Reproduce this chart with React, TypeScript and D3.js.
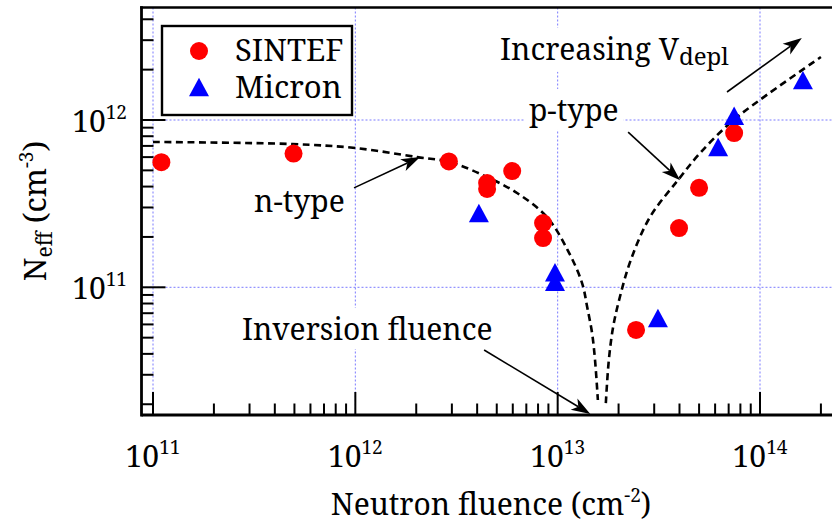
import React, { useLayoutEffect, useRef, useState } from 'react';
import * as d3 from 'd3';

const FONT = "'Noto Serif', 'Liberation Serif', serif";

// SINTEF measurements (red circles)
const sintefFluence = [1.1e11, 4.95e11, 2.9e12, 4.48e12, 4.48e12, 5.96e12, 8.47e12, 8.47e12, 2.44e13, 3.98e13, 5.0e13, 7.45e13];
const sintefNeff = [5.6e11, 6.3e11, 5.65e11, 4.2e11, 3.87e11, 4.95e11, 2.42e11, 1.97e11, 5.56e10, 2.26e11, 3.93e11, 8.36e11];

// Micron measurements (blue triangles)
const micronFluence = [4.08e12, 9.7e12, 9.7e12, 3.13e13, 6.21e13, 7.45e13, 1.63e14];
const micronNeff = [2.78e11, 1.23e11, 1.08e11, 6.55e10, 6.9e11, 1.06e12, 1.73e12];

// dashed model curve, n-type branch
const nTypeFluence = [1e11, 4.9e11, 1.0e12, 2.02e12, 2.94e12, 4.48e12, 6.3e12, 8.85e12, 1.12e13, 1.32e13, 1.40e13, 1.48e13, 1.53e13, 1.58e13];
const nTypeNeff = [7.39e11, 7.18e11, 6.8e11, 6.0e11, 5.6e11, 4.56e11, 3.66e11, 2.63e11, 1.67e11, 1.06e11, 7.6e10, 5.3e10, 3.67e10, 2.12e10];

// dashed model curve, p-type branch
const pTypeFluence = [1.73e13, 1.79e13, 1.88e13, 2.03e13, 2.30e13, 2.86e13, 3.93e13, 5.06e13, 7.12e13, 1.0e14, 2.0e14];
const pTypeNeff = [2.03e10, 3.67e10, 5.79e10, 8.75e10, 1.46e11, 2.63e11, 4.37e11, 6.35e11, 9.6e11, 1.32e12, 2.38e12];

// tick labels
const xMajorTicks = [1e11, 1e12, 1e13, 1e14];
const xMajorExponents = ['11', '12', '13', '14'];
const yMajorTicks = [1e11, 1e12];
const yMajorExponents = ['11', '12'];

// annotations (data coordinates)
const arrowFromFluence = [6.87e13, 2.23e13, 9.85e11, 4.33e12];
const arrowFromNeff = [1.47e12, 8.47e11, 3.93e11, 4.22e10];
const arrowToFluence = [1.61e14, 4.03e13, 2.09e12, 1.45e13];
const arrowToNeff = [3.09e12, 4.37e11, 6.01e11, 1.75e10];

const labelTexts = ['n-type', 'p-type', 'Inversion fluence'];
const labelFluence = [3.16e11, 7.21e12, 2.75e11];
const labelNeff = [2.82e11, 9.87e11, 4.84e10];
const incLabelFluence = 5.19e12;
const incLabelNeff = 2.29e12;

const legendNames = ['SINTEF', 'Micron'];

const W = 832;
const H = 523;
const left = 141.5;
const right = 832;
const top = 7.5;
const bottom = 415;

const x = d3.scaleLog().domain([1e11, 1e14]).range([153, 760]);
const y = d3.scaleLog().domain([1e11, 1e12]).range([287.3, 120]);

const xTicks = x.copy().domain([x.invert(left + 3), x.invert(right)]).ticks();
const yTicks = y.copy().domain([y.invert(bottom - 3), y.invert(top)]).ticks();
const isMajor = (v: number) => Math.abs(Math.log10(v) - Math.round(Math.log10(v))) < 1e-6;

const GRID = '#7a7aff';
const RED = '#ff0000';
const BLUE = '#0000ff';
const FS = 30;

function triPath(cx: number, cy: number, s: number) {
  const h = s * 0.92;
  return `M${cx},${cy - h / 2}L${cx + s / 2},${cy + h / 2}L${cx - s / 2},${cy + h / 2}Z`;
}

function Arrow({ x1, y1, x2, y2 }: { x1: number; y1: number; x2: number; y2: number }) {
  const a = Math.atan2(y2 - y1, x2 - x1);
  const L = 19;
  const w = 6.5;
  const n = 5;
  const c = Math.cos(a);
  const s = Math.sin(a);
  const pt = (u: number, v: number) => `${x2 + u * c - v * s},${y2 + u * s + v * c}`;
  const head = `M${pt(0, 0)}L${pt(-L, -w)}L${pt(-L + n, 0)}L${pt(-L, w)}Z`;
  const lx = x2 - (L - n) * c;
  const ly = y2 - (L - n) * s;
  return (
    <g>
      <line x1={x1} y1={y1} x2={lx} y2={ly} stroke="#000" strokeWidth={1.6} />
      <path d={head} fill="#000" />
    </g>
  );
}

function BoxedText({ tx, ty, children, padX = 5 }: { tx: number; ty: number; children: React.ReactNode; padX?: number }) {
  const ref = useRef<SVGTextElement>(null);
  const [box, setBox] = useState<{ x: number; y: number; w: number; h: number } | null>(null);
  useLayoutEffect(() => {
    if (ref.current) {
      const b = ref.current.getBBox();
      setBox({ x: b.x, y: b.y, w: b.width, h: b.height });
    }
  }, [tx, ty]);
  return (
    <g>
      {box && <rect x={box.x - padX} y={box.y} width={box.w + 2 * padX} height={box.h} fill="#fff" />}
      <text ref={ref} x={tx} y={ty} style={{ fontFamily: FONT }} fontSize={FS} fill="#000">
        {children}
      </text>
    </g>
  );
}

export default function App() {
  const line = d3
    .line<[number, number]>()
    .x((d) => x(d[0]))
    .y((d) => y(d[1]))
    .curve(d3.curveCatmullRom.alpha(0.5));
  const nPts = nTypeFluence.map((f, i) => [f, nTypeNeff[i]] as [number, number]);
  const pPts = pTypeFluence.map((f, i) => [f, pTypeNeff[i]] as [number, number]);
  const tf = { fontFamily: FONT };

  return (
    <svg width={W} height={H} style={{ position: 'absolute', left: 0, top: 0, background: '#fff' }}>
      <rect x={0} y={0} width={W} height={H} fill="#fff" />
      {/* grid */}
      {xMajorTicks.map((t, i) => (
        <line key={'gx' + i} x1={x(t)} x2={x(t)} y1={top} y2={bottom} stroke={GRID} strokeWidth={1} strokeDasharray="2,2" />
      ))}
      {yMajorTicks.map((t, i) => (
        <line key={'gy' + i} x1={left} x2={right} y1={y(t)} y2={y(t)} stroke={GRID} strokeWidth={1} strokeDasharray="2,2" />
      ))}

      {/* boxed annotation texts */}
      {labelTexts.map((t, i) => (
        <BoxedText key={'lt' + i} tx={x(labelFluence[i])} ty={y(labelNeff[i])}>
          {t}
        </BoxedText>
      ))}
      <BoxedText tx={x(incLabelFluence)} ty={y(incLabelNeff)}>
        Increasing V
        <tspan fontSize={24} dy={5}>depl</tspan>
      </BoxedText>

      {/* dashed curves */}
      <path d={line(nPts) || ''} fill="none" stroke="#000" strokeWidth={2.6} strokeDasharray="7,4.5" />
      <path d={line(pPts) || ''} fill="none" stroke="#000" strokeWidth={2.6} strokeDasharray="7,4.5" />

      {/* arrows */}
      {arrowFromFluence.map((f, i) => (
        <Arrow key={'ar' + i} x1={x(f)} y1={y(arrowFromNeff[i])} x2={x(arrowToFluence[i])} y2={y(arrowToNeff[i])} />
      ))}

      {/* markers */}
      {sintefFluence.map((f, i) => (
        <circle key={'s' + i} cx={x(f)} cy={y(sintefNeff[i])} r={9} fill={RED} />
      ))}
      {micronFluence.map((f, i) => (
        <path key={'m' + i} d={triPath(x(f), y(micronNeff[i]), 20)} fill={BLUE} />
      ))}

      {/* axes frame */}
      <line x1={left} x2={right} y1={bottom} y2={bottom} stroke="#000" strokeWidth={2.8} />
      <line x1={left} x2={left} y1={top - 1.2} y2={bottom + 1.4} stroke="#000" strokeWidth={2.8} />
      <line x1={left - 1.4} x2={right} y1={top} y2={top} stroke="#000" strokeWidth={2.6} />

      {/* x ticks */}
      {xTicks.map((t, i) => (
        <line key={'xt' + i} x1={x(t)} x2={x(t)} y1={bottom} y2={bottom - (isMajor(t) ? 23 : 11.5)} stroke="#000" strokeWidth={2} />
      ))}
      {/* y ticks */}
      {yTicks.map((t, i) => (
        <line key={'yt' + i} x1={left} x2={left + (isMajor(t) ? 24 : 12)} y1={y(t)} y2={y(t)} stroke="#000" strokeWidth={2} />
      ))}

      {/* x tick labels */}
      {xMajorTicks.map((t, i) => (
        <text key={'xl' + i} x={x(t)} y={467} textAnchor="middle" style={tf} fontSize={30} fill="#000">
          10
          <tspan fontSize={19} dy={-13}>{xMajorExponents[i]}</tspan>
        </text>
      ))}
      {/* y tick labels */}
      {yMajorTicks.map((t, i) => (
        <text key={'yl' + i} x={127} y={y(t) + 12} textAnchor="end" style={tf} fontSize={30} fill="#000">
          10
          <tspan fontSize={19} dy={-13}>{yMajorExponents[i]}</tspan>
        </text>
      ))}

      {/* axis titles */}
      <text x={491} y={515} textAnchor="middle" style={tf} fontSize={FS} fill="#000">
        Neutron fluence (cm
        <tspan fontSize={19} dy={-13}>-2</tspan>
        <tspan dy={13}>)</tspan>
      </text>
      <text transform="translate(46,211) rotate(-90)" textAnchor="middle" style={tf} fontSize={31} fill="#000">
        N
        <tspan fontSize={21} dy={6}>eff</tspan>
        <tspan dy={-6}> (cm</tspan>
        <tspan fontSize={19} dy={-13}>-3</tspan>
        <tspan dy={13}>)</tspan>
      </text>

      {/* legend */}
      <rect x={162} y={26} width={190} height={89} fill="#fff" stroke="#000" strokeWidth={2.4} />
      <circle cx={199} cy={51} r={9} fill={RED} />
      <path d={triPath(199, 87, 20)} fill={BLUE} />
      {legendNames.map((n, i) => (
        <text key={'lg' + i} x={235} y={61 + i * 37} style={tf} fontSize={31} fill="#000">
          {n}
        </text>
      ))}
    </svg>
  );
}
